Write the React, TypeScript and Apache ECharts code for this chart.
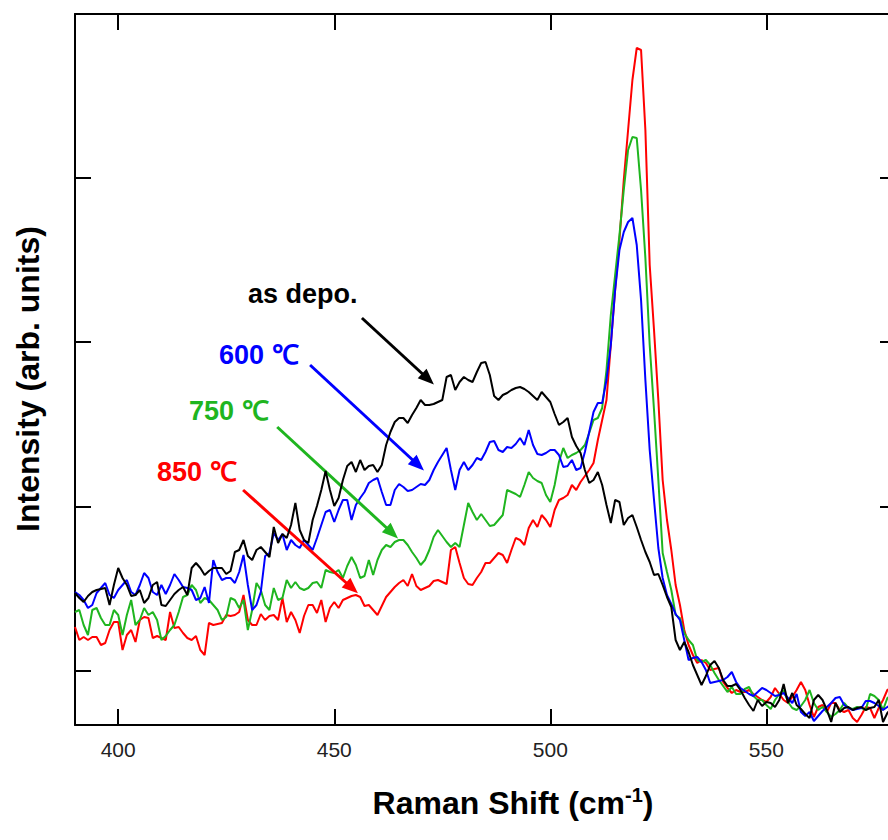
import React, { useEffect, useRef } from "react";
import * as echarts from "echarts";

// Raman shift sampling grid (cm-1)
const shiftStart = 390;
const shiftStep = 1;
const xMin = 390;
const xMax = 580;
const xTicks = [400, 450, 500, 550];
const yMin = 0;
const yMax = 711;
const yTicks = [54, 218, 383, 547];

// Intensities (arb. units), one value per cm-1 from 390 to 580
const asDepo = [132,127,123,129,133,135,136,137,120,140,
157,147,140,129,130,135,122,127,140,143,
120,119,125,131,135,138,130,157,162,157,
150,154,157,157,157,151,154,173,175,185,
169,165,175,178,173,168,198,182,191,187,
200,222,195,185,182,205,219,235,254,235,
219,227,245,259,263,253,265,255,259,260,
253,260,280,293,303,307,307,302,310,317,
325,320,320,321,323,325,348,350,335,343,
348,345,343,353,362,363,350,329,325,330,
332,335,337,338,336,333,329,325,333,328,
323,311,300,303,307,288,279,272,255,242,
245,253,240,220,202,225,223,200,207,210,
198,185,173,163,150,151,140,128,118,85,
75,83,73,60,50,40,49,60,64,57,
45,39,39,41,35,27,20,14,25,19,
23,22,18,25,41,22,32,20,16,11,
7,25,30,25,15,3,22,13,17,18,
15,17,18,15,17,18,25,3,12,17,19];

const ann600 = [133,130,125,117,120,132,137,142,130,127,
135,140,145,133,130,140,152,147,133,130,
140,131,140,151,145,138,137,135,125,127,
138,122,165,153,145,147,147,142,153,170,
140,115,120,133,169,172,192,185,191,175,
185,180,177,185,180,175,187,200,213,215,
203,215,225,225,205,220,227,233,242,245,
247,233,220,220,235,241,238,234,235,238,
241,240,245,255,263,270,277,255,235,255,
263,255,260,267,265,273,283,284,275,273,
278,277,281,287,280,295,280,271,270,272,
275,275,270,258,259,265,255,257,273,293,
313,322,322,345,380,435,475,493,503,507,
480,425,345,275,225,177,147,130,121,111,
105,85,65,67,68,63,55,42,43,44,
45,48,53,43,37,34,31,29,33,37,
35,32,29,30,32,27,22,31,13,9,
13,4,9,14,18,22,27,28,20,17,
15,16,17,24,24,22,19,15,18,20,21];

const ann750 = [113,115,100,90,115,117,107,100,100,115,
110,90,110,125,100,105,117,110,113,105,
85,89,95,100,113,128,130,140,135,122,
127,125,120,115,105,108,127,125,117,125,
95,115,142,135,120,115,137,125,127,145,
137,143,137,135,137,142,143,137,155,153,
152,155,147,159,168,160,147,149,165,150,
165,175,180,178,183,185,185,180,173,167,
160,165,175,188,195,189,183,178,182,178,
200,222,213,205,211,205,199,200,205,210,
235,233,231,228,240,253,247,244,242,230,
223,240,263,277,267,270,272,275,280,292,
305,307,317,355,410,450,490,535,575,588,
587,535,467,380,315,245,172,153,135,110,
107,92,85,80,65,63,65,60,52,45,
39,33,38,31,31,36,38,29,25,25,
20,16,25,31,35,23,17,15,19,25,
35,22,15,18,13,8,11,15,22,17,
16,18,17,15,31,29,25,15,27,30,28];

const ann850 = [98,85,88,85,88,88,80,82,95,103,
103,75,90,95,83,105,108,107,87,89,
87,85,113,97,98,92,87,85,89,75,
70,102,100,101,102,110,109,110,113,130,
105,100,100,111,105,109,110,105,127,103,
113,105,92,109,120,120,112,125,103,117,
123,117,125,127,129,130,128,119,120,115,
110,119,128,133,138,142,145,139,151,139,
135,137,139,144,145,143,141,175,178,162,
147,141,140,147,153,162,162,167,172,170,
162,175,187,185,180,197,205,198,210,205,
198,215,225,227,230,240,235,243,249,255,
262,285,305,325,380,435,485,545,595,645,
677,675,595,460,395,325,245,205,175,140,
120,95,80,70,62,65,62,55,56,57,
43,37,32,35,33,33,35,31,28,25,
23,28,37,31,25,22,28,35,43,35,
20,8,18,20,13,22,22,15,13,15,
7,3,10,18,17,7,17,25,35,37,35];

// Annotations: label, colour, arrow start / end in data units
const annLabels = ["as depo.", "600 \u2103", "750 \u2103", "850 \u2103"];
const annColors = ["#000000", "#0000ff", "#1fb51f", "#ff0000"];
const arrowFrom = [[456.4, 407], [444.4, 360], [436.8, 298], [428.9, 235]];
const arrowTo = [[471.7, 346], [469.4, 260], [463.4, 192], [454.1, 137]];
const labelPos = [[248, 294], [219, 355], [189, 411], [157, 472]];

const FONT = "'Liberation Sans', Arial, Helvetica, sans-serif";

function toPairs(vals: number[]) {
  return vals.map((v, i) => [shiftStart + i * shiftStep, v]);
}

export default function App() {
  const ref = useRef<HTMLDivElement>(null);
  useEffect(() => {
    document.body.style.margin = "0";
    if (!ref.current) return;
    const chart = echarts.init(ref.current, null, { renderer: "svg" });
    const axisLine = { show: true, onZero: false, lineStyle: { color: "#000", width: 2 } };
    const xTick = { show: true, inside: true, length: 16, customValues: xTicks, lineStyle: { color: "#000", width: 2 } };
    const yTick = { show: true, inside: true, length: 16, customValues: yTicks, lineStyle: { color: "#000", width: 2 } };
    const seriesData = [ann850, ann750, ann600, asDepo];
    const seriesColors = [annColors[3], annColors[2], annColors[1], annColors[0]];
    const seriesNames = [annLabels[3], annLabels[2], annLabels[1], annLabels[0]];
    const arrowIdx = [3, 2, 1, 0];
    const option: any = {
      animation: false,
      backgroundColor: "#ffffff",
      grid: { left: 75, right: 1, top: 14, bottom: 115, containLabel: false },
      xAxis: [
        {
          type: "value", position: "bottom", min: xMin, max: xMax,
          axisLine, axisTick: xTick, splitLine: { show: false },
          axisLabel: { show: true, customValues: xTicks, fontSize: 21, color: "#222", margin: 14, fontFamily: FONT },
        },
        {
          type: "value", position: "top", min: xMin, max: xMax,
          axisLine, axisTick: xTick, splitLine: { show: false }, axisLabel: { show: false },
        },
      ],
      yAxis: [
        {
          type: "value", position: "left", min: yMin, max: yMax,
          axisLine, axisTick: yTick, splitLine: { show: false }, axisLabel: { show: false },
        },
        {
          type: "value", position: "right", min: yMin, max: yMax,
          axisLine, axisTick: yTick, splitLine: { show: false }, axisLabel: { show: false },
        },
      ],
      series: seriesData.map((d, k) => {
        const a = arrowIdx[k];
        return {
          type: "line",
          name: seriesNames[k],
          data: toPairs(d),
          symbol: "none",
          showSymbol: false,
          lineStyle: { color: seriesColors[k], width: 2 },
          itemStyle: { color: seriesColors[k] },
          z: 2 + k,
          markLine: {
            silent: true,
            symbol: ["none", "triangle"],
            symbolSize: [13, 16],
            label: { show: false },
            lineStyle: { color: annColors[a], width: 3, type: "solid" },
            itemStyle: { color: annColors[a] },
            data: [[{ coord: arrowFrom[a] }, { coord: arrowTo[a] }]],
          },
        };
      }),
      graphic: [
        ...annLabels.map((t, i) => ({
          type: "text",
          x: labelPos[i][0],
          y: labelPos[i][1],
          style: {
            text: t, fill: annColors[i], fontSize: 27, fontWeight: "bold", fontFamily: FONT,
            align: "left", verticalAlign: "middle", textAlign: "left", textVerticalAlign: "middle",
          },
        })),
        {
          type: "text",
          x: 28, y: 379, rotation: Math.PI / 2,
          style: {
            text: "Intensity (arb. units)", fill: "#000", fontSize: 32, fontWeight: "bold", fontFamily: FONT,
            align: "center", verticalAlign: "middle", textAlign: "center", textVerticalAlign: "middle",
          },
        },
        {
          type: "text",
          x: 513, y: 803,
          style: {
            text: "{a|Raman Shift (cm}{b|-1}{a|)}",
            fill: "#000",
            align: "center", verticalAlign: "middle", textAlign: "center", textVerticalAlign: "middle",
            rich: {
              a: { fontSize: 32, fontWeight: "bold", fontFamily: FONT, lineHeight: 36, fill: "#000" },
              b: { fontSize: 20, fontWeight: "bold", fontFamily: FONT, verticalAlign: "top", fill: "#000" },
            },
          },
        },
      ],
    };
    chart.setOption(option);
    return () => chart.dispose();
  }, []);
  return (
    <div style={{ width: 888, height: 840, overflow: "hidden", position: "relative" }}>
      <div ref={ref} style={{ width: 897, height: 840 }} />
    </div>
  );
}
